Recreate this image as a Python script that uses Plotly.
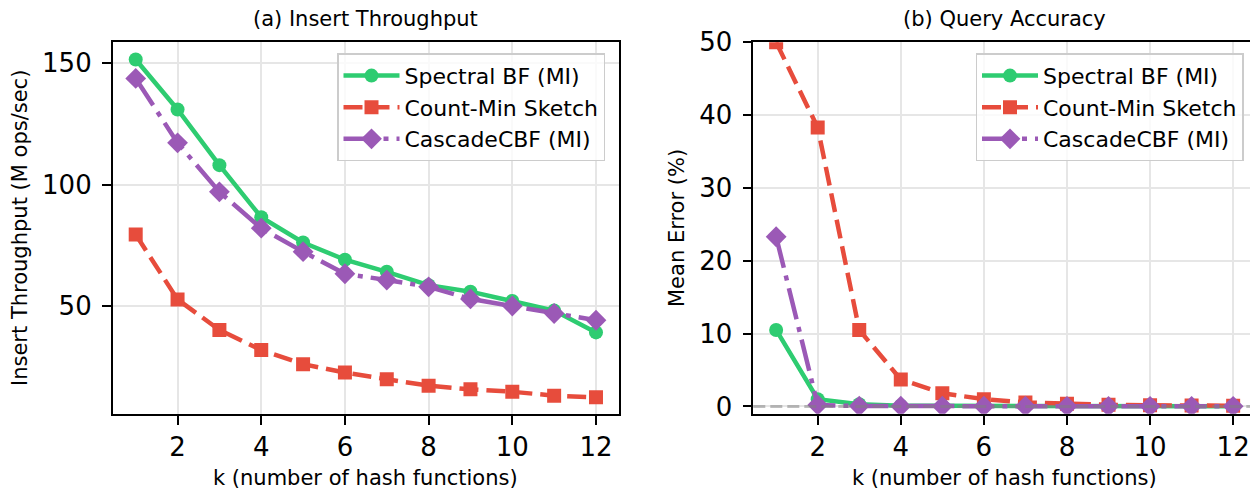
import plotly.graph_objects as go

k = list(range(1, 13))

# (a) Insert throughput (M ops/sec)
spectral_tp = [151.6, 131.0, 108.0, 86.5, 76.1, 69.0, 64.0, 58.5, 55.8, 52.0, 48.0, 39.0]
cms_tp = [79.4, 52.6, 40.0, 31.7, 25.9, 22.4, 19.7, 17.0, 15.5, 14.5, 12.9, 12.2]
cascade_tp = [143.8, 117.2, 97.0, 82.0, 72.3, 63.2, 60.6, 57.8, 52.8, 49.9, 46.8, 44.0]

# (b) Query accuracy, mean error (%)
spectral_err = [10.5, 1.0, 0.3, 0.1, 0.08, 0.06, 0.05, 0.04, 0.03, 0.03, 0.02, 0.02]
cms_err = [50.0, 38.3, 10.5, 3.7, 1.8, 1.0, 0.55, 0.35, 0.22, 0.15, 0.12, 0.1]
cascade_err = [23.3, 0.2, 0.05, 0.03, 0.02, 0.02, 0.02, 0.01, 0.01, 0.01, 0.01, 0.01]

names = ["Spectral BF (MI)", "Count-Min Sketch", "CascadeCBF (MI)"]
colors = ["#2ecc71", "#e74c3c", "#9b59b6"]
symbols = ["circle", "square", "diamond"]
sizes = [14, 14, 16]
dashes = ["solid", "19px,8px", "32px,8px,5px,8px"]

FONT = "DejaVu Sans"
# page body has an 8px margin: the figure is placed at (8, 8)
OFF = 8
W, H = 1258 - OFF, 493 - OFF


def px(x):
    return (x - OFF) / W


def py(y):
    return 1 - (y - OFF) / H


fig = go.Figure()

left_series = [spectral_tp, cms_tp, cascade_tp]
right_series = [spectral_err, cms_err, cascade_err]

for i in range(3):
    fig.add_trace(go.Scatter(
        x=k, y=left_series[i], name=names[i], mode="lines+markers",
        line=dict(color=colors[i], width=4.5, dash=dashes[i]),
        marker=dict(symbol=symbols[i], size=sizes[i], color=colors[i]),
        xaxis="x", yaxis="y", legend="legend", legendgroup="a%d" % i,
    ))
for i in range(3):
    fig.add_trace(go.Scatter(
        x=k, y=right_series[i], name=names[i], mode="lines+markers",
        line=dict(color=colors[i], width=4.5, dash=dashes[i]),
        marker=dict(symbol=symbols[i], size=sizes[i], color=colors[i]),
        xaxis="x2", yaxis="y2", legend="legend2", legendgroup="b%d" % i,
    ))

ax_common = dict(
    showline=True, mirror=True, linecolor="black", linewidth=1.6,
    ticks="outside", ticklen=9, tickwidth=1.5, tickcolor="black",
    showgrid=True, gridcolor="#e6e6e6", gridwidth=1.5, automargin=False,
    zeroline=False, tickfont=dict(family=FONT, size=26, color="black"),
)

y0, y1 = py(413.7), py(42.3)
L0, L1 = 112.7, 619
R0, R1 = 753.3, 1256

legend_common = dict(
    y=py(53.3), yanchor="top",
    bgcolor="rgba(255,255,255,0.8)", bordercolor="#cccccc", borderwidth=1.5,
    font=dict(family=FONT, size=22, color="black"),
    itemwidth=56, traceorder="grouped", tracegroupgap=0,
)

fig.update_layout(
    template="none",
    width=W, height=H, autosize=False,
    margin=dict(l=0, r=0, t=0, b=0, pad=0, autoexpand=False),
    paper_bgcolor="white", plot_bgcolor="white",
    font=dict(family=FONT, color="black"),
    xaxis=dict(domain=[px(L0), px(L1)], range=[0.45, 12.55],
               tickvals=[2, 4, 6, 8, 10, 12], anchor="y", **ax_common),
    yaxis=dict(domain=[y0, y1], range=[5.45, 158.7], ticklabelstandoff=5,
               tickvals=[50, 100, 150], anchor="x", **ax_common),
    xaxis2=dict(domain=[px(R0), min(1.0, px(R1))], range=[0.45, 12.55],
                tickvals=[2, 4, 6, 8, 10, 12], anchor="y2", **ax_common),
    yaxis2=dict(domain=[y0, y1], range=[-1, 50], ticklabelstandoff=5,
                tickvals=[0, 10, 20, 30, 40, 50], anchor="x2", **ax_common),
    legend=dict(x=px(605), xanchor="right", **legend_common),
    legend2=dict(x=px(1243.5), xanchor="right", **legend_common),
    showlegend=True,
)

# zero reference line in (b)
fig.add_shape(type="line", xref="x2 domain", yref="y2", x0=0, x1=1, y0=0, y1=0,
              line=dict(color="gray", width=3, dash="12px,5px"), opacity=0.5, layer="above")

ann_font = dict(family=FONT, size=21, color="black")


def label(text, x, y, angle=0):
    fig.add_annotation(text=text, xref="paper", yref="paper", x=x, y=y,
                       showarrow=False, textangle=angle,
                       xanchor="center", yanchor="middle", font=ann_font)


label("(a) Insert Throughput", px((L0 + L1) / 2), py(19))
label("(b) Query Accuracy", px((R0 + R1) / 2), py(19))
label("k (number of hash functions)", px((L0 + L1) / 2), py(478))
label("k (number of hash functions)", px((R0 + R1) / 2), py(478))
label("Insert Throughput (M ops/sec)", px(20), (y0 + y1) / 2, -90)
label("Mean Error (%)", px(677), (y0 + y1) / 2, -90)

fig.write_html("out.html")
